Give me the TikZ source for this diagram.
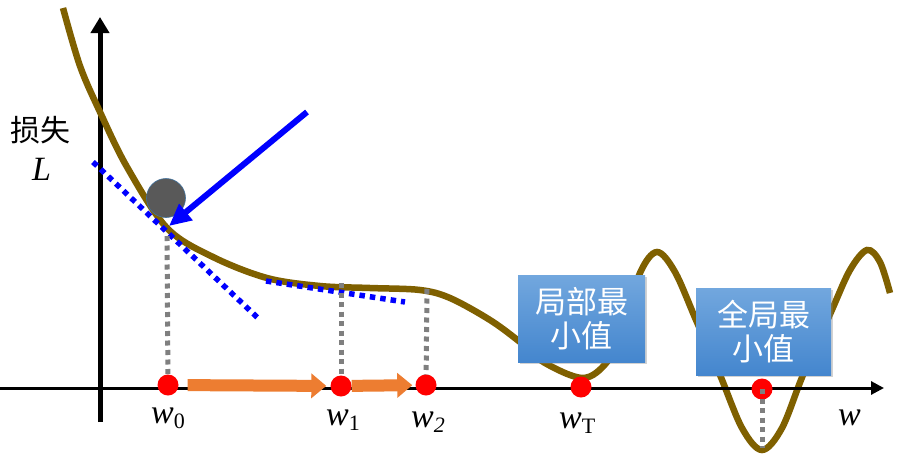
\documentclass[tikz,border=0pt]{standalone}
\usepackage{fontspec}
\setmainfont{Liberation Serif}
\newfontfamily\cjk{Noto Sans CJK SC}
\usetikzlibrary{arrows.meta,shadows}
\definecolor{curvec}{RGB}{127,96,0}
\definecolor{dotgray}{RGB}{127,127,127}
\definecolor{ballc}{RGB}{89,89,89}
\definecolor{ballrim}{RGB}{65,113,156}
\definecolor{orangec}{RGB}{237,125,49}
\definecolor{boxtop}{RGB}{114,167,222}
\definecolor{boxbot}{RGB}{68,134,206}
\tikzset{
  lossline/.style={curvec, line width=6.5pt},
  tangent/.style={blue, line width=5.5pt, dash pattern=on 5.5pt off 5pt},
  guide/.style={dotgray, line width=5pt, dash pattern=on 5pt off 4.5pt},
  pt/.style={circle, fill=red, minimum size=21pt, inner sep=0pt},
  stepmove/.style={orangec, line width=12pt, -{Triangle[length=15pt,width=24pt]}},
  force/.style={blue, line width=6pt, -{Triangle[length=22pt,width=20pt]}},
  minbox/.style={top color=boxtop, bottom color=boxbot, draw=none, text=white,
    align=center, inner sep=0pt, minimum height=87pt,
    font=\cjk\fontsize{31}{34}\selectfont,
    drop shadow={shadow xshift=1.5pt, shadow yshift=-1.5pt, opacity=0.35}},
  lab/.style={anchor=base west, inner sep=0pt, font=\fontsize{34}{34}\selectfont},
}
\newcommand{\wsub}[1]{\textit{w}\raisebox{-0.35ex}{\fontsize{22}{22}\selectfont #1}}
\begin{document}
\begin{tikzpicture}[x=1pt, y=-1pt]
\useasboundingbox (0,0) rectangle (900,453);
\fill[white] (0,0) rectangle (900,453);
% y axis
\coordinate (yb) at (100,422);
\coordinate (yt) at (100,17);
\draw[line width=5pt, -{Triangle[length=16pt,width=18pt]}] (yb) -- (yt);
% loss curve
\draw[lossline] plot[smooth, tension=0.55] coordinates {
 (63,8) (80,66) (100,112) (127,167) (167,228) (213,257) (267,278) (320,286)
 (370,288) (420,290) (450,298) (490,320) (520,342) (545,363) (583,378)
 (607,362) (622,330) (640,273) (657,252) (675,272) (696,320) (720,375)
 (742,428) (762,450) (782,428) (803,375) (831,312) (850,270) (867,250)
 (880,262) (890,293)};
% x axis
\coordinate (xl) at (0,388);
\coordinate (xr) at (884,388);
\draw[line width=3pt, -{Triangle[length=13pt,width=13pt]}] (xl) -- (xr);
% tangents
\coordinate (t1a) at (93,162);
\coordinate (t1b) at (260,320);
\coordinate (t2a) at (266,281);
\coordinate (t2b) at (405,302);
\draw[tangent] (t1a) -- (t1b);
\draw[tangent] (t2a) -- (t2b);
% guides and points
\coordinate (g0) at (167,236);
\coordinate (g1) at (341,283);
\coordinate (g2) at (427,289);
\coordinate (gG) at (762,448);
\coordinate (c0) at (168,385);
\coordinate (c1) at (341,386);
\coordinate (c2) at (426,385);
\coordinate (cG) at (762,389);
\draw[guide] (g0) -- (c0);
\draw[guide] (g1) -- (c1);
\draw[guide] (g2) -- (c2);
\node[pt] (d0) at (c0) {};
\node[pt] (d1) at (c1) {};
\node[pt] (d2) at (c2) {};
\node[pt] (dT) at (581,387) {};
\node[pt] (dG) at (cG) {};
\draw[guide] (cG) -- (gG);
% step arrows
\draw[stepmove, shorten <=9pt, shorten >=4pt] (d0) -- (d1);
\draw[stepmove, shorten <=0pt, shorten >=3pt] (d1) -- (d2);
% ball and force
\node[circle, fill=ballc, draw=ballrim, line width=0.6pt, minimum size=39pt, inner sep=0pt] (ball) at (166,198) {};
\coordinate (fs) at (307,112);
\coordinate (ft) at (169,226);
\draw[force] (fs) -- (ft);
% boxes
\node[minbox, minimum width=127pt] (lmin) at (581.5,318.5) {局部最\\小值};
\node[minbox, minimum width=135pt] (gmin) at (763.5,331.5) {全局最\\小值};
% labels
\node[font=\cjk\fontsize{30}{30}\selectfont, inner sep=0pt] (loss) at (40,130) {损失};
\node[lab] (Llab) at (32,180) {\textit{L}};
\node[lab] (l0) at (151,423) {\wsub{0}};
\node[lab] (l1) at (326,425) {\wsub{1}};
\node[lab] (l2) at (411,427) {\wsub{\textit{2}}};
\node[lab] (lT) at (559,428) {\wsub{T}};
\node[lab] (lw) at (838,425) {\textit{w}};
\end{tikzpicture}
\end{document}
